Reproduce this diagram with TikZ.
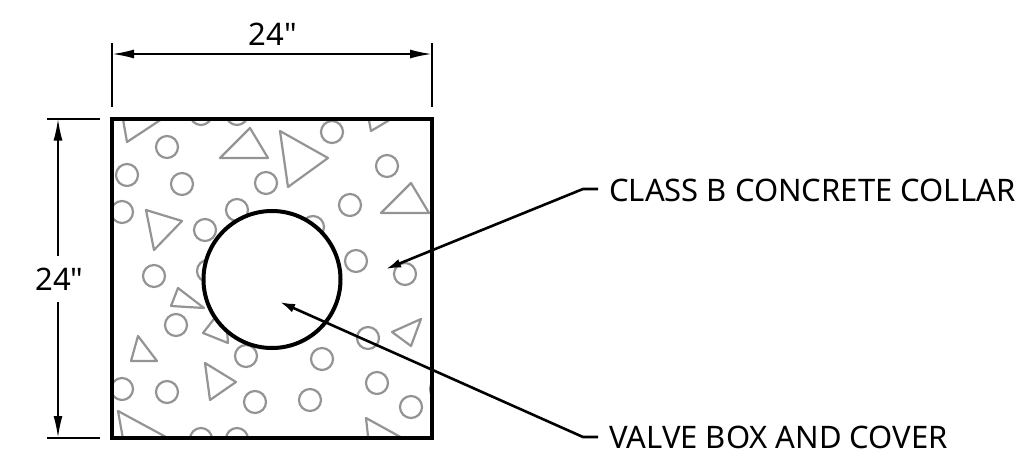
\documentclass[tikz,border=0pt]{standalone}
\usepackage{fontspec}
\setmainfont{Noto Sans}[Ligatures=TeXOff]
\usepackage{tikz}
\usetikzlibrary{arrows.meta}
\tikzstyle{slab} =
        [
                rectangle,
                draw,
                line width = 3.5pt,
                minimum width = 320pt,
                minimum height = 319pt,
                inner sep = 0pt
        ]
\tikzstyle{valve} =
        [
                circle,
                draw,
                fill = white,
                line width = 4pt,
                minimum size = 137pt,
                inner sep = 0pt
        ]
\tikzstyle{label} =
        [
                inner sep = 0pt,
                font = \fontsize{31pt}{34pt}\selectfont
        ]
\tikzstyle{stone} =
        [
                draw = black!42,
                line width = 2.2pt
        ]
\tikzstyle{witness} =
        [
                line width = 2pt
        ]
\tikzstyle{dim} =
        [
                line width = 2pt,
                {Latex[length=22pt,width=9pt]}-{Latex[length=22pt,width=9pt]}
        ]
\tikzstyle{leader} =
        [
                line width = 2.6pt,
                -{Latex[length=15pt,width=9pt]}
        ]
\begin{document}
\begin{tikzpicture}[x=1pt,y=-1pt]
    \useasboundingbox (0,0) rectangle (1018,458);
    % aggregate
    \begin{scope}
        \clip (112,119) rectangle (432,438);
        \foreach \cx/\cy in {167/147,127/175,182/184,266/183,122/212,237/210,205/230,154/276,208/271,
                             201/114,237/114,332/132,387/166,350/205,313/227,356/261,405/274,
                             176/325,246/356,122/389,167/392,255/402,201/439,237/439,
                             322/359,368/338,377/383,310/400,411/407,441/389}
            \draw [stone] (\cx,\cy) circle (11);
        \foreach \ax/\ay/\bx/\by/\dx/\dy in {121/108/127/142/171/113,250/128/268/158/220/158,146/210/182/221/154/250,
                                             280/131/328/158/288/187,367/110/371/131/403/112,411/183/429/213/381/213,
                                             178/288/204/308/171/306,228/343/203/333/225/305,138/336/157/361/131/361,
                                             205/363/236/382/210/400,118/411/190/450/125/450,
                                             421/319/392/332/411/346,366/418/415/445/369/445}
            \draw [stone, line join = round] (\ax,\ay) -- (\bx,\by) -- (\dx,\dy) -- cycle;
    \end{scope}
    \node [slab] (slab) at (272,278.5) {};
    \node [valve] (box) at (272,279.5) {};
    % dimensions
    \coordinate (tl) at (112,43);
    \coordinate (tlb) at (112,107);
    \coordinate (tr) at (432,43);
    \coordinate (trb) at (432,107);
    \coordinate (lt) at (47,118.5);
    \coordinate (ltb) at (100,118.5);
    \coordinate (lb) at (47,438);
    \coordinate (lbb) at (100,438);
    \draw [witness] (tl) -- (tlb);
    \draw [witness] (tr) -- (trb);
    \draw [witness] (lt) -- (ltb);
    \draw [witness] (lb) -- (lbb);
    \node [label] (top) at (273,34.5) {24"};
    \node [label] (side) at (59.5,279) {24"};
    \coordinate (topl) at (112,54);
    \coordinate (topr) at (432,54);
    \coordinate (sidet) at (58,118.5);
    \coordinate (sideb) at (58,438);
    \coordinate (sidegapt) at (58,256);
    \coordinate (sidegapb) at (58,302);
    \draw [dim] (topl) -- (topr);
    \path [draw, witness, {Latex[length=22pt,width=9pt]}-] (sidet) -- (sidegapt);
    \path [draw, witness, {Latex[length=22pt,width=9pt]}-] (sideb) -- (sidegapb);
    % callouts
    \node [label, anchor = west] (collar) at (609,190) {CLASS B CONCRETE COLLAR};
    \node [label, anchor = west] (cover) at (609,437.5) {VALVE BOX AND COVER};
    \coordinate (collartip) at (386,269);
    \coordinate (covertip) at (280,302);
    \coordinate (collarbend) at (583,189);
    \coordinate (coverbend) at (583,437);
    \coordinate (collarend) at (598,189);
    \coordinate (coverend) at (598,437);
    \draw [leader] (collarend) -- (collarbend) -- (collartip);
    \draw [leader] (coverend) -- (coverbend) -- (covertip);
\end{tikzpicture}
\end{document}
